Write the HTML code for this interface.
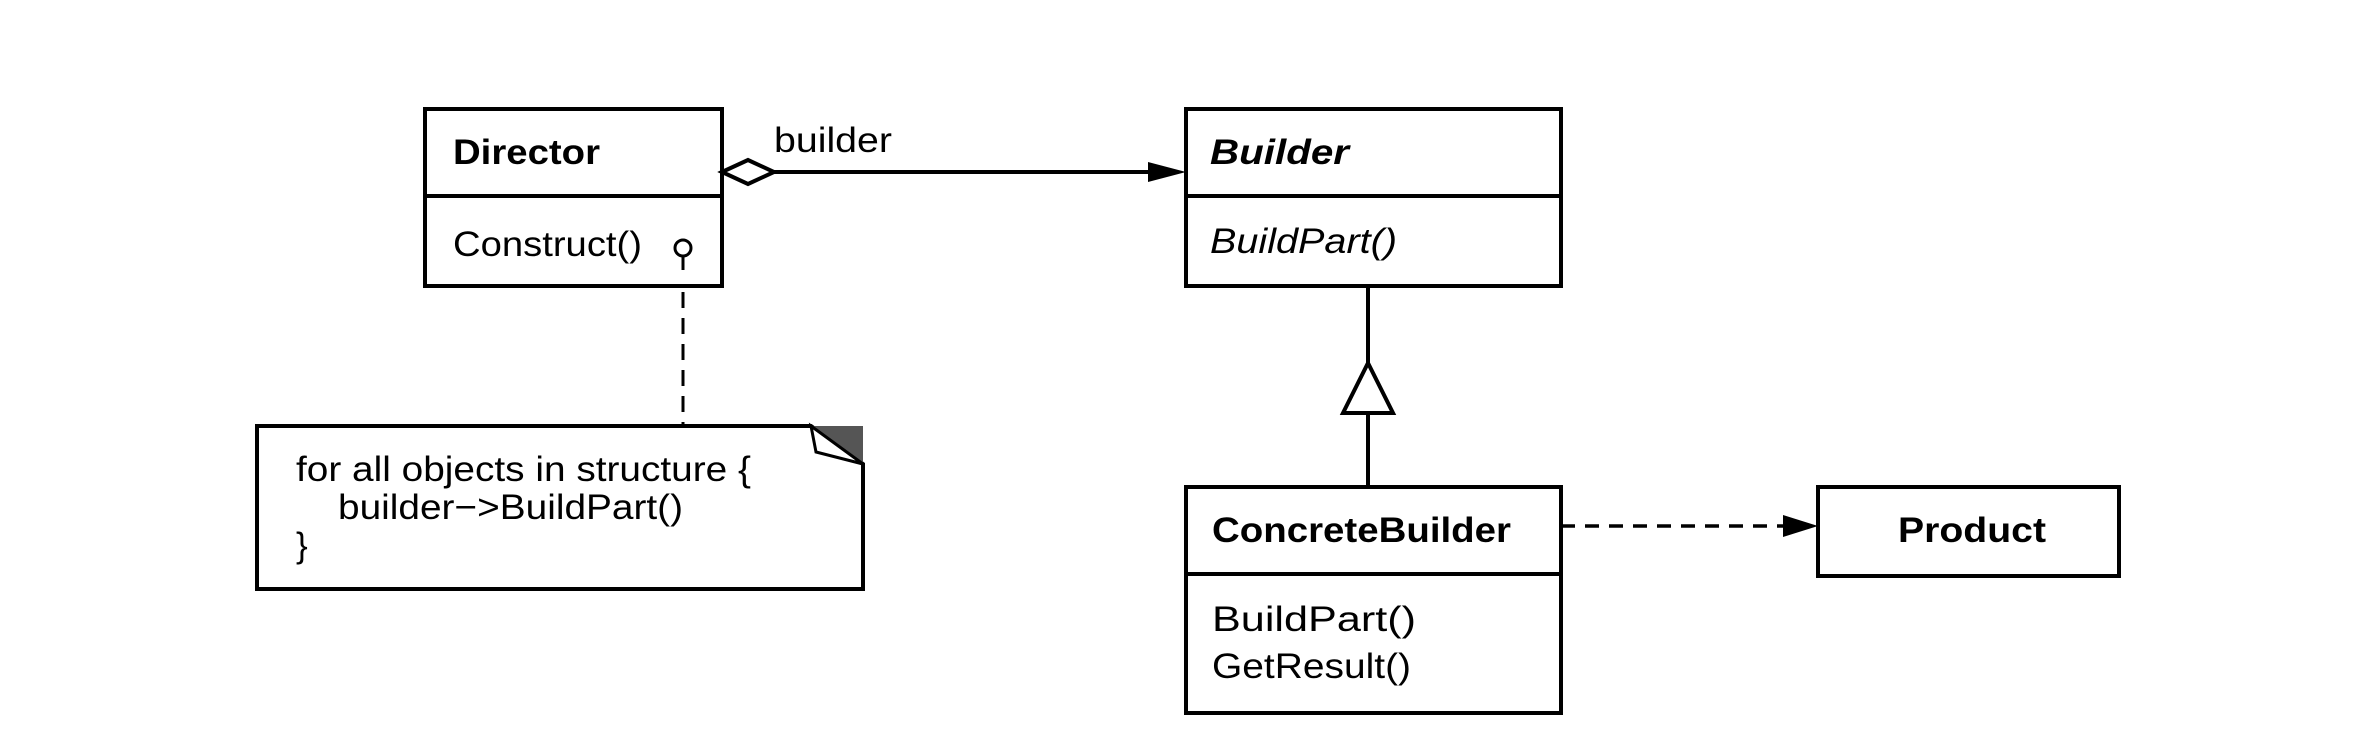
<!DOCTYPE html>
<html><head><meta charset="utf-8"><style>html,body{margin:0;padding:0;background:#fff}svg{display:block}</style></head>
<body>
<svg width="2370" height="756" viewBox="0 0 2370 756" xmlns="http://www.w3.org/2000/svg" font-family="Liberation Sans, Arial, sans-serif" font-size="35" fill="#000">
<rect width="2370" height="756" fill="#fff"/>
<g fill="none" stroke="#000" stroke-width="4">
<rect x="425" y="109" width="297" height="177"/>
<line x1="425" y1="196" x2="722" y2="196"/>
<rect x="1186" y="109" width="375" height="177"/>
<line x1="1186" y1="196" x2="1561" y2="196"/>
<rect x="1186" y="487" width="375" height="226"/>
<line x1="1186" y1="574" x2="1561" y2="574"/>
<rect x="1818" y="487" width="301" height="89"/>
<path d="M257 426 H811 L863 464 V589 H257 Z"/>
</g>
<path d="M811 426 H863 V464 L816 452 Z" fill="#555"/>
<path d="M811 426 L816 452 L863 464 Z" fill="#fff" stroke="#000" stroke-width="3"/>
<circle cx="683" cy="248" r="8" fill="#fff" stroke="#000" stroke-width="3"/>
<line x1="683" y1="256" x2="683" y2="270" stroke="#000" stroke-width="3"/>
<line x1="683" y1="292" x2="683" y2="426" stroke="#000" stroke-width="3" stroke-dasharray="16,10"/>
<path d="M722 172 L748 160 L774 172 L748 184 Z" fill="#fff" stroke="#000" stroke-width="4"/>
<line x1="774" y1="172" x2="1150" y2="172" stroke="#000" stroke-width="4"/>
<path d="M1148 162 L1186 172 L1148 182 Z" fill="#000"/>
<line x1="1368" y1="286" x2="1368" y2="363" stroke="#000" stroke-width="4"/>
<path d="M1368 363 L1393 413 L1343 413 Z" fill="#fff" stroke="#000" stroke-width="4"/>
<line x1="1368" y1="413" x2="1368" y2="487" stroke="#000" stroke-width="4"/>
<line x1="1561" y1="526" x2="1785" y2="526" stroke="#000" stroke-width="3.5" stroke-dasharray="14,10"/>
<path d="M1783 515 L1818 526 L1783 537 Z" fill="#000"/>
<text x="453" y="164" font-weight="bold" textLength="147" lengthAdjust="spacingAndGlyphs">Director</text>
<text x="453" y="256" textLength="189" lengthAdjust="spacingAndGlyphs">Construct()</text>
<text x="774" y="152" textLength="118" lengthAdjust="spacingAndGlyphs">builder</text>
<text x="1210" y="164" font-weight="bold" font-style="italic" textLength="139" lengthAdjust="spacingAndGlyphs">Builder</text>
<text x="1210" y="253" font-style="italic" textLength="187" lengthAdjust="spacingAndGlyphs">BuildPart()</text>
<text x="1212" y="542" font-weight="bold" textLength="299" lengthAdjust="spacingAndGlyphs">ConcreteBuilder</text>
<text x="1212" y="631" textLength="204" lengthAdjust="spacingAndGlyphs">BuildPart()</text>
<text x="1212" y="678" textLength="199" lengthAdjust="spacingAndGlyphs">GetResult()</text>
<text x="1898" y="542" font-weight="bold" textLength="148" lengthAdjust="spacingAndGlyphs">Product</text>
<text x="296" y="481" textLength="455" lengthAdjust="spacingAndGlyphs">for all objects in structure {</text>
<text x="338" y="519" textLength="345" lengthAdjust="spacingAndGlyphs">builder−&gt;BuildPart()</text>
<text x="296" y="557">}</text>
</svg>
</body></html>
